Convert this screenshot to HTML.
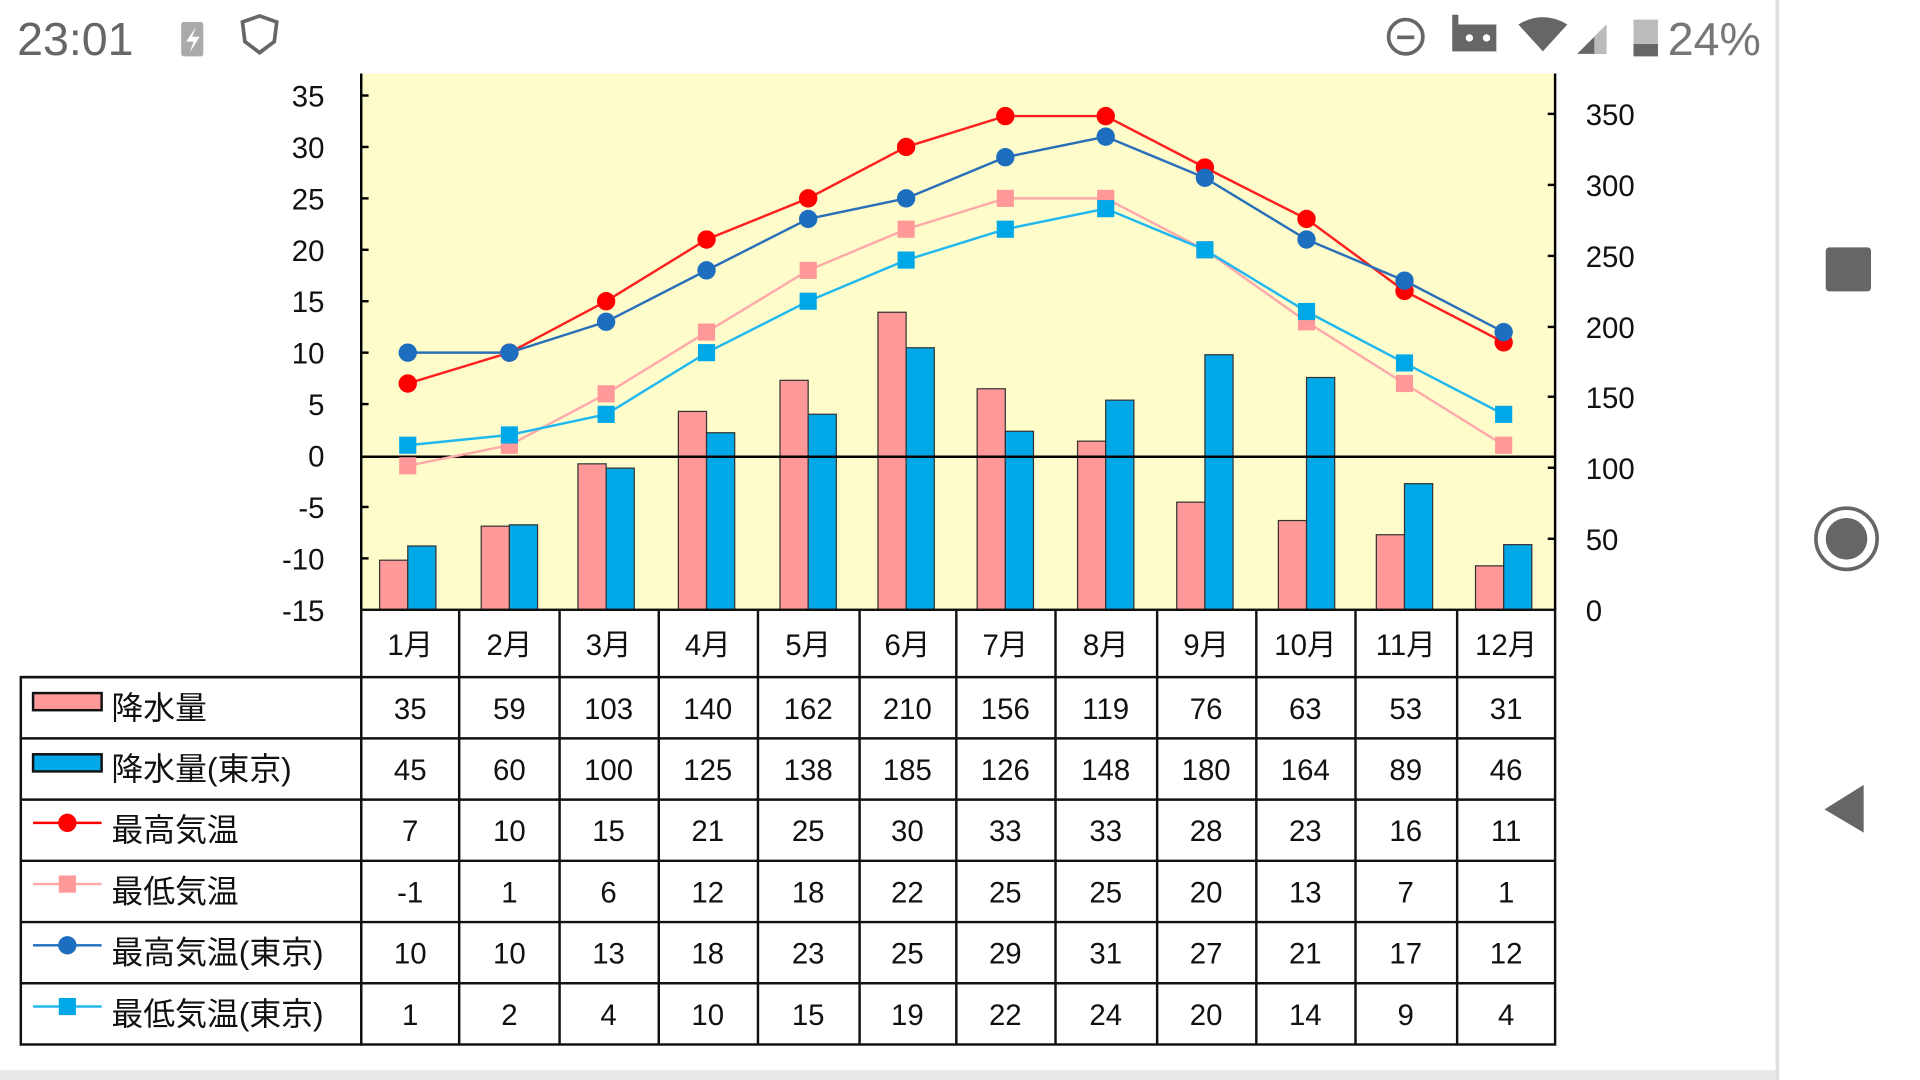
<!DOCTYPE html>
<html><head><meta charset="utf-8"><style>
html,body{margin:0;padding:0;background:#fff;width:1920px;height:1080px;overflow:hidden}
svg{display:block}
.t{font-family:"Liberation Sans","Noto Sans CJK JP",sans-serif;fill:#111}
</style></head><body>
<svg width="1920" height="1080" viewBox="0 0 1568 882" preserveAspectRatio="none">
<rect width="1568" height="882" fill="#fff"/>
<!-- status bar -->
<text x="14" y="45" class="t" font-size="38" style="fill:#666">23:01</text>
<rect x="148" y="18" width="18" height="28" rx="2" fill="#aaa"/>
<path d="M160 22 L152 34 L158 34 L155 43 L163 30 L157 30 Z" fill="#fff"/>
<path d="M198 18 L212 13 L226 18 L224 34 L212 43 L200 34 Z" fill="none" stroke="#666" stroke-width="3"/>
<circle cx="1148" cy="30" r="14" fill="none" stroke="#666" stroke-width="3"/>
<rect x="1141" y="29" width="14" height="3" fill="#666"/>
<rect x="1186" y="20" width="36" height="22" fill="#666"/><rect x="1186" y="12" width="5" height="8" fill="#666"/>
<circle cx="1200" cy="31" r="3" fill="#fff"/><circle cx="1214" cy="31" r="3" fill="#fff"/>
<path d="M1240 20 Q1260 8 1280 20 L1260 42 Z" fill="#666"/>
<path d="M1288 44 L1312 20 L1312 44 Z" fill="#666"/><path d="M1302 30 L1312 20 L1312 44 L1302 44Z" fill="#bbb"/>
<rect x="1334" y="16" width="20" height="30" fill="#bbb"/><rect x="1334" y="36" width="20" height="10" fill="#666"/>
<text x="1362" y="45" class="t" font-size="38" style="fill:#777">24%</text>
<!-- nav -->
<rect x="1450" y="0" width="3" height="882" fill="#e0e0e0"/>
<rect x="0" y="874" width="1450" height="8" fill="#e8e8e8"/>
<rect x="1491" y="202" width="37" height="36" rx="3" fill="#666"/>
<circle cx="1508" cy="440" r="25" fill="none" stroke="#666" stroke-width="3"/>
<circle cx="1508" cy="440" r="17" fill="#666"/>
<path d="M1490 661 L1522 641 L1522 680 Z" fill="#666"/>
<!-- plot -->
<rect x="295" y="60" width="975" height="438" fill="#fffccc"/>
<g fill="#ff9999" stroke="#333" stroke-width="1">
<rect x="310" y="457.5" width="23" height="40.5"/><rect x="393" y="429.7" width="23" height="68.3"/><rect x="472" y="378.8" width="23" height="119.2"/><rect x="554" y="336" width="23" height="162"/><rect x="637" y="310.6" width="23" height="187.4"/><rect x="717" y="255" width="23" height="243"/><rect x="798" y="317.5" width="23" height="180.5"/><rect x="880" y="360.3" width="23" height="137.7"/><rect x="961" y="410.1" width="23" height="87.9"/><rect x="1044" y="425.1" width="23" height="72.9"/><rect x="1124" y="436.7" width="23" height="61.3"/><rect x="1205" y="462.1" width="23" height="35.9"/>
</g>
<g fill="#00a8e8" stroke="#333" stroke-width="1">
<rect x="333" y="445.9" width="23" height="52.1"/><rect x="416" y="428.6" width="23" height="69.4"/><rect x="495" y="382.3" width="23" height="115.7"/><rect x="577" y="353.4" width="23" height="144.6"/><rect x="660" y="338.3" width="23" height="159.7"/><rect x="740" y="284" width="23" height="214"/><rect x="821" y="352.2" width="23" height="145.8"/><rect x="903" y="326.8" width="23" height="171.2"/><rect x="984" y="289.7" width="23" height="208.3"/><rect x="1067" y="308.3" width="23" height="189.7"/><rect x="1147" y="395" width="23" height="103"/><rect x="1228" y="444.8" width="23" height="53.2"/>
</g>
<line x1="295" y1="373" x2="1270" y2="373" stroke="#000" stroke-width="2"/>
<!-- lines -->
<polyline fill="none" stroke="#ffaaaa" stroke-width="2" points="333,380.4 416,363.6 495,321.6 577,271.2 660,220.8 740,187.2 821,162 903,162 984,204 1067,262.8 1147,313.2 1228,363.6"/>
<polyline fill="none" stroke="#20b8ee" stroke-width="2" points="333,363.6 416,355.2 495,338.4 577,288 660,246 740,212.4 821,187.2 903,170.4 984,204 1067,254.4 1147,296.4 1228,338.4"/>
<polyline fill="none" stroke="#ff2020" stroke-width="2" points="333,313.2 416,288 495,246 577,195.6 660,162 740,120 821,94.8 903,94.8 984,136.8 1067,178.8 1147,237.6 1228,279.6"/>
<polyline fill="none" stroke="#2a70b8" stroke-width="2" points="333,288 416,288 495,262.8 577,220.8 660,178.8 740,162 821,128.4 903,111.6 984,145.2 1067,195.6 1147,229.2 1228,271.2"/>
<g fill="#ff9999">
<rect x="326" y="373.4" width="14" height="14"/><rect x="409" y="356.6" width="14" height="14"/><rect x="488" y="314.6" width="14" height="14"/><rect x="570" y="264.2" width="14" height="14"/><rect x="653" y="213.8" width="14" height="14"/><rect x="733" y="180.2" width="14" height="14"/><rect x="814" y="155" width="14" height="14"/><rect x="896" y="155" width="14" height="14"/><rect x="977" y="197" width="14" height="14"/><rect x="1060" y="255.8" width="14" height="14"/><rect x="1140" y="306.2" width="14" height="14"/><rect x="1221" y="356.6" width="14" height="14"/>
</g>
<g fill="#00a8e8">
<rect x="326" y="356.6" width="14" height="14"/><rect x="409" y="348.2" width="14" height="14"/><rect x="488" y="331.4" width="14" height="14"/><rect x="570" y="281" width="14" height="14"/><rect x="653" y="239" width="14" height="14"/><rect x="733" y="205.4" width="14" height="14"/><rect x="814" y="180.2" width="14" height="14"/><rect x="896" y="163.4" width="14" height="14"/><rect x="977" y="197" width="14" height="14"/><rect x="1060" y="247.4" width="14" height="14"/><rect x="1140" y="289.4" width="14" height="14"/><rect x="1221" y="331.4" width="14" height="14"/>
</g>
<g fill="#ff0000">
<circle cx="333" cy="313.2" r="7.5"/><circle cx="416" cy="288" r="7.5"/><circle cx="495" cy="246" r="7.5"/><circle cx="577" cy="195.6" r="7.5"/><circle cx="660" cy="162" r="7.5"/><circle cx="740" cy="120" r="7.5"/><circle cx="821" cy="94.8" r="7.5"/><circle cx="903" cy="94.8" r="7.5"/><circle cx="984" cy="136.8" r="7.5"/><circle cx="1067" cy="178.8" r="7.5"/><circle cx="1147" cy="237.6" r="7.5"/><circle cx="1228" cy="279.6" r="7.5"/>
</g>
<g fill="#1e6ec0">
<circle cx="333" cy="288" r="7.5"/><circle cx="416" cy="288" r="7.5"/><circle cx="495" cy="262.8" r="7.5"/><circle cx="577" cy="220.8" r="7.5"/><circle cx="660" cy="178.8" r="7.5"/><circle cx="740" cy="162" r="7.5"/><circle cx="821" cy="128.4" r="7.5"/><circle cx="903" cy="111.6" r="7.5"/><circle cx="984" cy="145.2" r="7.5"/><circle cx="1067" cy="195.6" r="7.5"/><circle cx="1147" cy="229.2" r="7.5"/><circle cx="1228" cy="271.2" r="7.5"/>
</g>
<!-- axes -->
<g stroke="#000" stroke-width="2">
<line x1="295" y1="60" x2="295" y2="498"/><line x1="1270" y1="60" x2="1270" y2="498"/>
<line x1="295" y1="78" x2="301" y2="78"/><line x1="295" y1="120" x2="301" y2="120"/><line x1="295" y1="162" x2="301" y2="162"/><line x1="295" y1="204" x2="301" y2="204"/><line x1="295" y1="246" x2="301" y2="246"/><line x1="295" y1="288" x2="301" y2="288"/><line x1="295" y1="330" x2="301" y2="330"/><line x1="295" y1="414" x2="301" y2="414"/><line x1="295" y1="456" x2="301" y2="456"/>
<line x1="1264" y1="93" x2="1270" y2="93"/><line x1="1264" y1="151" x2="1270" y2="151"/><line x1="1264" y1="209" x2="1270" y2="209"/><line x1="1264" y1="267" x2="1270" y2="267"/><line x1="1264" y1="324" x2="1270" y2="324"/><line x1="1264" y1="382" x2="1270" y2="382"/><line x1="1264" y1="440" x2="1270" y2="440"/>
</g>
<g class="t" font-size="24" text-anchor="end">
<text x="265" y="87">35</text><text x="265" y="129">30</text><text x="265" y="171">25</text><text x="265" y="213">20</text><text x="265" y="255">15</text><text x="265" y="297">10</text><text x="265" y="339">5</text><text x="265" y="381">0</text><text x="265" y="423">-5</text><text x="265" y="465">-10</text><text x="265" y="507">-15</text>
</g>
<g class="t" font-size="24">
<text x="1295" y="102">350</text><text x="1295" y="160">300</text><text x="1295" y="218">250</text><text x="1295" y="276">200</text><text x="1295" y="333">150</text><text x="1295" y="391">100</text><text x="1295" y="449">50</text><text x="1295" y="507">0</text>
</g>
<!-- table -->
<g stroke="#111" stroke-width="2" fill="none">
<rect x="295" y="498" width="975" height="355"/>
<rect x="17" y="553" width="278" height="300"/>
<line x1="17" y1="553" x2="1270" y2="553"/><line x1="17" y1="603" x2="1270" y2="603"/><line x1="17" y1="653" x2="1270" y2="653"/><line x1="17" y1="703" x2="1270" y2="703"/><line x1="17" y1="753" x2="1270" y2="753"/><line x1="17" y1="803" x2="1270" y2="803"/>
<line x1="375" y1="498" x2="375" y2="853"/><line x1="457" y1="498" x2="457" y2="853"/><line x1="538" y1="498" x2="538" y2="853"/><line x1="619" y1="498" x2="619" y2="853"/><line x1="702" y1="498" x2="702" y2="853"/><line x1="781" y1="498" x2="781" y2="853"/><line x1="862" y1="498" x2="862" y2="853"/><line x1="945" y1="498" x2="945" y2="853"/><line x1="1026" y1="498" x2="1026" y2="853"/><line x1="1107" y1="498" x2="1107" y2="853"/><line x1="1190" y1="498" x2="1190" y2="853"/>
</g>
<!-- legend -->
<rect x="27" y="566" width="56" height="14" fill="#ff9999" stroke="#111" stroke-width="2"/>
<rect x="27" y="616" width="56" height="14" fill="#00a8e8" stroke="#111" stroke-width="2"/>
<line x1="27" y1="672" x2="83" y2="672" stroke="#ff0000" stroke-width="2"/><circle cx="55" cy="672" r="7.5" fill="#ff0000"/>
<line x1="27" y1="722" x2="83" y2="722" stroke="#ffaaaa" stroke-width="2"/><rect x="48" y="715" width="14" height="14" fill="#ff9999"/>
<line x1="27" y1="772" x2="83" y2="772" stroke="#1e6ec0" stroke-width="2"/><circle cx="55" cy="772" r="7.5" fill="#1e6ec0"/>
<line x1="27" y1="822" x2="83" y2="822" stroke="#20b8ee" stroke-width="2"/><rect x="48" y="815" width="14" height="14" fill="#00a8e8"/>
<g class="t" font-size="26">
<text x="91" y="587">降水量</text><text x="91" y="637">降水量(東京)</text><text x="91" y="687">最高気温</text><text x="91" y="737">最低気温</text><text x="91" y="787">最高気温(東京)</text><text x="91" y="837">最低気温(東京)</text>
</g>
<g class="t" font-size="24" text-anchor="middle">
<text x="335" y="535">1月</text><text x="416" y="535">2月</text><text x="497" y="535">3月</text><text x="578" y="535">4月</text><text x="660" y="535">5月</text><text x="741" y="535">6月</text><text x="821" y="535">7月</text><text x="903" y="535">8月</text><text x="985" y="535">9月</text><text x="1066" y="535">10月</text><text x="1148" y="535">11月</text><text x="1230" y="535">12月</text>
<text x="335" y="587">35</text><text x="416" y="587">59</text><text x="497" y="587">103</text><text x="578" y="587">140</text><text x="660" y="587">162</text><text x="741" y="587">210</text><text x="821" y="587">156</text><text x="903" y="587">119</text><text x="985" y="587">76</text><text x="1066" y="587">63</text><text x="1148" y="587">53</text><text x="1230" y="587">31</text>
<text x="335" y="637">45</text><text x="416" y="637">60</text><text x="497" y="637">100</text><text x="578" y="637">125</text><text x="660" y="637">138</text><text x="741" y="637">185</text><text x="821" y="637">126</text><text x="903" y="637">148</text><text x="985" y="637">180</text><text x="1066" y="637">164</text><text x="1148" y="637">89</text><text x="1230" y="637">46</text>
<text x="335" y="687">7</text><text x="416" y="687">10</text><text x="497" y="687">15</text><text x="578" y="687">21</text><text x="660" y="687">25</text><text x="741" y="687">30</text><text x="821" y="687">33</text><text x="903" y="687">33</text><text x="985" y="687">28</text><text x="1066" y="687">23</text><text x="1148" y="687">16</text><text x="1230" y="687">11</text>
<text x="335" y="737">-1</text><text x="416" y="737">1</text><text x="497" y="737">6</text><text x="578" y="737">12</text><text x="660" y="737">18</text><text x="741" y="737">22</text><text x="821" y="737">25</text><text x="903" y="737">25</text><text x="985" y="737">20</text><text x="1066" y="737">13</text><text x="1148" y="737">7</text><text x="1230" y="737">1</text>
<text x="335" y="787">10</text><text x="416" y="787">10</text><text x="497" y="787">13</text><text x="578" y="787">18</text><text x="660" y="787">23</text><text x="741" y="787">25</text><text x="821" y="787">29</text><text x="903" y="787">31</text><text x="985" y="787">27</text><text x="1066" y="787">21</text><text x="1148" y="787">17</text><text x="1230" y="787">12</text>
<text x="335" y="837">1</text><text x="416" y="837">2</text><text x="497" y="837">4</text><text x="578" y="837">10</text><text x="660" y="837">15</text><text x="741" y="837">19</text><text x="821" y="837">22</text><text x="903" y="837">24</text><text x="985" y="837">20</text><text x="1066" y="837">14</text><text x="1148" y="837">9</text><text x="1230" y="837">4</text>
</g>
</svg>
</body></html>
